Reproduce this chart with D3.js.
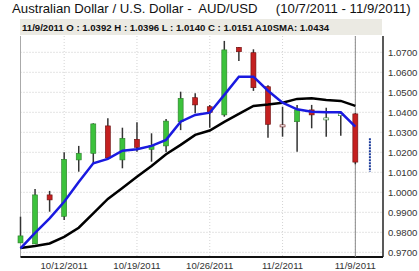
<!DOCTYPE html>
<html>
<head>
<meta charset="utf-8">
<script src="https://cdn.jsdelivr.net/npm/d3@7"></script>
<style>
  body { margin: 0; background: #fff; }
  svg { display: block; font-family: "Liberation Sans", Arial, sans-serif; }
</style>
</head>
<body>
<svg id="chart" width="419" height="271"></svg>
<script>
// trading days 10/7/2011 .. 11/9/2011
const dates = ['10/7','10/10','10/11','10/12','10/13','10/14','10/17','10/18','10/19','10/20','10/21',
  '10/24','10/25','10/26','10/27','10/28','10/31','11/1','11/2','11/3','11/4','11/7','11/8','11/9'];
const open  = [0.9747,0.9742,0.9987,0.9880,1.0162,1.0195,1.0332,1.0162,1.0265,1.0215,1.0232,
  1.0353,1.0473,1.0428,1.0387,1.0725,1.0698,1.0528,1.0337,1.0353,1.0412,1.0368,1.0390,1.0392];
const high  = [0.9878,1.0017,1.0007,1.0200,1.0232,1.0345,1.0370,1.0323,1.0350,1.0295,1.0366,
  1.0503,1.0495,1.0437,1.0757,1.0727,1.0715,1.0535,1.0428,1.0437,1.0437,1.0423,1.0398,1.0396];
const low   = [0.9747,0.9742,0.9903,0.9862,1.0103,1.0147,1.0168,1.0120,1.0203,1.0153,1.0201,
  1.0311,1.0395,1.0323,1.0378,1.0657,1.0507,1.0273,1.0278,1.0203,1.0320,1.0278,1.0283,1.0140];
const close = [0.9782,0.9987,0.9962,1.0165,1.0195,1.0342,1.0172,1.0270,1.0225,1.0235,1.0356,
  1.0470,1.0437,1.0400,1.0712,1.0703,1.0523,1.0340,1.0333,1.0412,1.0387,1.0372,1.0393,1.0151];
const sma5  = [0.9720,0.9797,0.9870,0.9953,1.0052,1.0145,1.0167,1.0208,1.0215,1.0232,1.0262,
  1.0353,1.0387,1.0398,1.0487,1.0578,1.0578,1.0508,1.0448,1.0415,1.0403,1.0400,1.0400,1.0328];
const sma10 = [0.9722,0.9732,0.9744,0.9777,0.9823,0.9895,0.9967,1.0022,1.0078,1.0132,1.0190,
  1.0237,1.0287,1.0309,1.0352,1.0392,1.0432,1.0439,1.0448,1.0467,1.0470,1.0462,1.0457,1.0432];
const nextRange = [1.0103, 1.0270];
const yTicks = [0.97,0.98,0.99,1.00,1.01,1.02,1.03,1.04,1.05,1.06,1.07];
const xLabelIdx = [3, 8, 13, 18, 23];
const xLabels = ['10/12/2011','10/19/2011','10/26/2011','11/2/2011','11/9/2011'];

const svg = d3.select('#chart');
const pLeft = 20.5, pRight = 383, pTop = 36, pBottom = 257;
const x = d3.scaleLinear().domain([0, 24.9]).range([pLeft, pRight]);
const y = d3.scaleLinear().domain([0.97, 1.07]).range([252.3, 52.3]);

// title
svg.append('text').attr('x', 12).attr('y', 13)
  .attr('font-size', 13.2).attr('fill', '#111')
  .attr('xml:space', 'preserve')
  .text('Australian Dollar / U.S. Dollar -  AUD/USD     (10/7/2011 - 11/9/2011)');

// header box
svg.append('rect').attr('x', 20).attr('y', 19).attr('width', 362).attr('height', 16)
  .attr('fill', '#ebeae3');
svg.append('text').attr('x', 22).attr('y', 31)
  .attr('font-size', 9.6).attr('font-weight', 'bold').attr('fill', '#111')
  .text('11/9/2011 O : 1.0392 H : 1.0396 L : 1.0140 C : 1.0151 A10SMA: 1.0434');

// grid
svg.append('g').selectAll('line').data(yTicks).enter().append('line')
  .attr('x1', pLeft).attr('x2', pRight)
  .attr('y1', d => y(d)).attr('y2', d => y(d))
  .attr('stroke', '#c8c8c8').attr('stroke-dasharray', '1,2');
svg.append('g').selectAll('line').data(xLabelIdx).enter().append('line')
  .attr('x1', d => x(d)).attr('x2', d => x(d))
  .attr('y1', pTop).attr('y2', pBottom)
  .attr('stroke', '#d4d4d4').attr('stroke-dasharray', '1,2');

// frame
svg.append('line').attr('x1', pLeft).attr('x2', pLeft).attr('y1', pTop).attr('y2', pBottom)
  .attr('stroke', '#aaa');
svg.append('line').attr('x1', pRight).attr('x2', pRight).attr('y1', pTop).attr('y2', pBottom)
  .attr('stroke', '#222').attr('stroke-width', 1.5);
svg.append('line').attr('x1', pLeft).attr('x2', pRight).attr('y1', pBottom).attr('y2', pBottom)
  .attr('stroke', '#111').attr('stroke-width', 2);

// y labels
svg.append('g').selectAll('text').data(yTicks).enter().append('text')
  .attr('x', 388).attr('y', d => y(d) + 3.5)
  .attr('font-size', 9.6).attr('fill', '#333')
  .text(d => d3.format('.4f')(d));

// x labels
svg.append('g').selectAll('text').data(xLabelIdx).enter().append('text')
  .attr('x', d => x(d)).attr('y', 269)
  .attr('text-anchor', 'middle').attr('font-size', 9.6).attr('fill', '#333')
  .text((d, i) => xLabels[i]);

// crosshair
svg.append('line').attr('x1', x(23)).attr('x2', x(23)).attr('y1', pTop).attr('y2', pBottom)
  .attr('stroke', '#8a8a8a').attr('stroke-width', 1);

// candles
const candles = dates.map((d, i) => ({ i, o: open[i], h: high[i], l: low[i], c: close[i] }));
const cg = svg.append('g');
cg.selectAll('line').data(candles).enter().append('line')
  .attr('x1', d => x(d.i)).attr('x2', d => x(d.i))
  .attr('y1', d => y(d.h)).attr('y2', d => y(d.l))
  .attr('stroke', '#333').attr('stroke-width', 1.5);
cg.selectAll('rect').data(candles).enter().append('rect')
  .attr('x', d => x(d.i) - 2.5).attr('width', 5)
  .attr('y', d => y(Math.max(d.o, d.c)))
  .attr('height', d => Math.max(2, Math.abs(y(d.o) - y(d.c))))
  .attr('fill', d => Math.abs(d.o - d.c) < 0.0008 ? '#fff' : (d.c > d.o ? '#3cc23c' : '#c42020'))
  .attr('stroke', d => d.c > d.o ? '#2a7a2a' : '#6a1010').attr('stroke-width', 0.6);

// moving averages
const line = d3.line().x((d, i) => x(i)).y(d => y(d));
svg.append('path').datum(sma10).attr('d', line)
  .attr('fill', 'none').attr('stroke', '#000').attr('stroke-width', 2.5);
svg.append('path').datum(sma5).attr('d', line)
  .attr('fill', 'none').attr('stroke', '#1a1ae0').attr('stroke-width', 2.5);

// next-day range
svg.append('line').attr('x1', x(24)).attr('x2', x(24))
  .attr('y1', y(nextRange[1])).attr('y2', y(nextRange[0]))
  .attr('stroke', '#1a3a9a').attr('stroke-width', 2).attr('stroke-dasharray', '2,1');
</script>
</body>
</html>
